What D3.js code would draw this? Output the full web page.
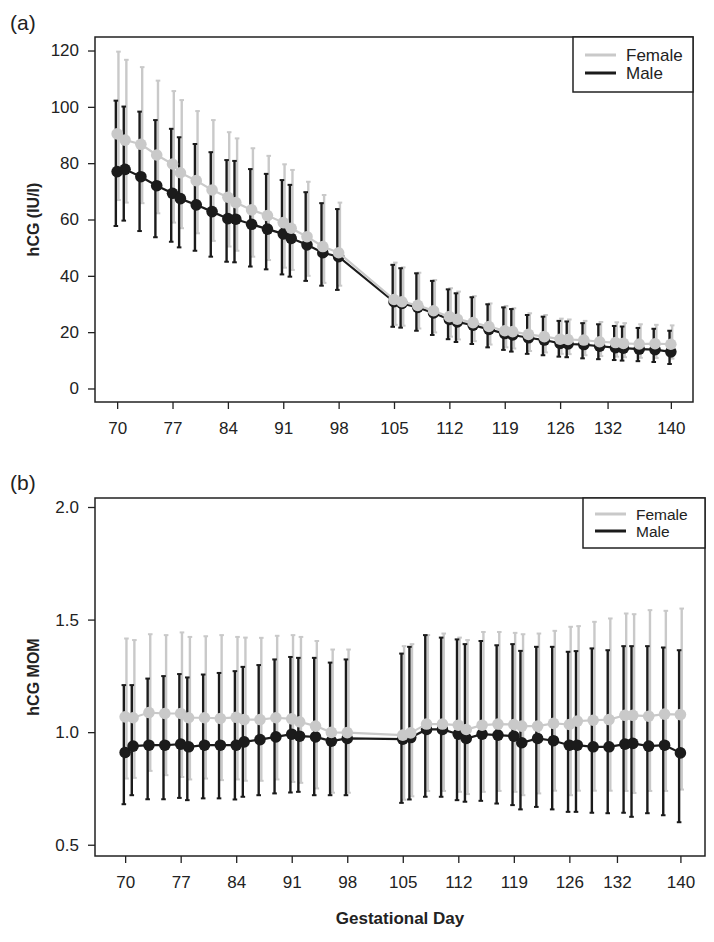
<!DOCTYPE html>
<html><head><meta charset="utf-8">
<script src="https://cdn.jsdelivr.net/npm/d3@7"></script>
<style>
html,body{margin:0;padding:0;background:#fff;}
svg{display:block;font-family:"Liberation Sans",Arial,Helvetica,sans-serif;}
</style></head>
<body><svg id="chart" width="714" height="942"></svg>
<script>
// ---------- data ----------
const days = [70,71,73,75,77,78,80,82,84,85,87,89,91,92,94,96,98,
  105,106,108,110,112,113,115,117,119,120,122,124,126,127,129,131,133,134,136,138,140];
const xTicks = [70,77,84,91,98,105,112,119,126,132,140];
const seriesNames = ["Female","Male"];

// panel (a): hCG (IU/l)
const aFemaleMean = [90.4,88.2,86.7,82.9,79.7,76.6,73.8,70.5,67.9,66.0,63.4,61.4,58.9,56.9,53.9,50.4,48.2,
  31.6,30.8,29.5,27.6,25.5,24.6,23.4,22.0,20.5,20.2,19.2,18.4,17.5,17.4,17.2,16.6,16.3,16.0,15.8,15.9,15.7];
const aFemaleUpper = [119.6,116.7,114.1,109.3,105.6,102.4,98.5,95.3,91.0,88.8,85.3,82.6,79.6,77.6,73.4,68.7,66.0,
  44.7,43.0,41.1,38.5,35.6,34.4,32.8,30.2,29.3,28.5,26.7,26.1,24.8,24.5,24.0,23.6,23.5,23.2,22.8,22.6,22.4];
const aFemaleLower = [66.9,66.0,65.8,62.2,58.9,56.9,55.1,52.4,50.4,48.9,46.8,45.6,42.9,42.1,40.0,37.5,36.5,
  22.6,22.3,21.3,19.9,18.4,17.4,16.8,15.6,14.6,14.2,13.3,12.8,12.3,12.2,11.8,11.5,11.3,11.1,10.9,10.8,10.6];
const aMaleMean = [77.0,77.8,75.2,72.0,69.3,67.4,65.2,62.8,60.3,60.1,58.3,56.6,54.9,53.3,51.0,48.2,46.8,
  30.8,30.2,28.8,26.8,24.5,23.6,22.5,21.0,19.5,19.0,18.0,17.2,16.0,15.8,15.6,15.0,14.5,14.3,14.0,13.8,13.0];
const aMaleUpper = [102.2,100.1,98.3,95.3,92.2,89.2,86.8,83.9,81.1,80.8,77.9,76.2,74.0,72.3,69.7,65.8,63.7,
  43.9,42.7,40.9,38.2,35.2,33.8,32.4,29.9,28.8,28.2,26.1,25.5,24.0,23.8,23.2,22.8,22.2,22.0,21.5,21.2,20.5];
const aMaleLower = [57.7,59.6,55.9,53.7,52.1,50.1,48.9,46.8,45.0,44.8,43.3,42.3,40.5,39.7,38.2,36.5,35.0,
  21.9,21.6,20.5,19.0,17.5,16.5,15.8,14.6,13.7,13.1,12.3,11.8,11.3,11.1,10.7,10.4,10.1,9.9,9.7,9.4,8.7];
const aYTicks = [0,20,40,60,80,100,120];

// panel (b): hCG MOM
const bFemaleMean = [1.068,1.064,1.087,1.083,1.083,1.064,1.064,1.061,1.066,1.056,1.056,1.064,1.059,1.046,1.027,0.999,0.998,
  0.987,0.997,1.036,1.036,1.031,1.012,1.031,1.036,1.034,1.027,1.027,1.039,1.034,1.049,1.053,1.056,1.075,1.075,1.071,1.080,1.078];
const bFemaleUpper = [1.416,1.409,1.435,1.431,1.443,1.423,1.426,1.431,1.423,1.420,1.419,1.428,1.431,1.423,1.405,1.367,1.367,
  1.382,1.391,1.431,1.438,1.420,1.409,1.445,1.445,1.441,1.435,1.438,1.450,1.468,1.471,1.490,1.505,1.527,1.524,1.542,1.539,1.549];
const bFemaleLower = [0.794,0.797,0.828,0.809,0.801,0.790,0.794,0.787,0.790,0.784,0.784,0.790,0.779,0.775,0.750,0.731,0.731,
  0.700,0.715,0.739,0.739,0.735,0.725,0.735,0.739,0.735,0.720,0.728,0.740,0.720,0.740,0.740,0.740,0.739,0.730,0.739,0.739,0.745];
const bMaleMean = [0.910,0.938,0.942,0.942,0.947,0.935,0.942,0.942,0.942,0.957,0.967,0.979,0.991,0.982,0.979,0.960,0.972,
  0.969,0.976,1.012,1.012,0.991,0.972,0.991,0.987,0.982,0.953,0.972,0.962,0.942,0.942,0.935,0.935,0.947,0.950,0.938,0.942,0.908];
const bMaleUpper = [1.209,1.209,1.238,1.249,1.258,1.243,1.256,1.263,1.271,1.290,1.298,1.323,1.334,1.330,1.330,1.309,1.323,
  1.349,1.379,1.431,1.420,1.412,1.391,1.405,1.386,1.391,1.361,1.379,1.379,1.357,1.360,1.372,1.364,1.382,1.382,1.382,1.376,1.364];
const bMaleLower = [0.680,0.720,0.702,0.702,0.708,0.698,0.706,0.706,0.701,0.713,0.720,0.728,0.732,0.735,0.720,0.720,0.720,
  0.686,0.701,0.713,0.713,0.698,0.691,0.695,0.683,0.676,0.657,0.668,0.657,0.646,0.646,0.642,0.640,0.642,0.624,0.640,0.631,0.600];
const bYTicks = [0.5,1.0,1.5,2.0];

// ---------- styling ----------
const FEMALE = "#c9c9c9", MALE = "#1b1b1b", INK = "#222";
const svg = d3.select("#chart");

function drawPanel(cfg){
  const {box, xDomain, yDomain, yTicks, yFmt, tag, tagY, yTitle, legend, female, male} = cfg;
  const x = d3.scaleLinear().domain(xDomain).range([box.x0, box.x1]);
  const y = d3.scaleLinear().domain(yDomain).range([box.y1, box.y0]);
  const g = svg.append("g");

  // axes
  const ax = g.append("g").attr("transform",`translate(0,${box.y1})`)
    .call(d3.axisBottom(x).tickValues(xTicks).tickSize(7).tickPadding(13).tickFormat(d3.format("d")));
  const ay = g.append("g").attr("transform",`translate(${box.x0},0)`)
    .call(d3.axisLeft(y).tickValues(yTicks).tickSize(7).tickPadding(9).tickFormat(yFmt));
  [ax,ay].forEach(a=>{
    a.select(".domain").remove();
    a.selectAll(".tick line").attr("stroke",INK).attr("stroke-width",1.3);
    a.selectAll(".tick text").attr("fill",INK).attr("font-size",17)
      .attr("font-family",'"Liberation Sans",Arial,sans-serif');
  });

  // error bars
  function bars(s, color, off){
    const gb = g.append("g");
    s.mean.forEach((m,i)=>{
      const cx = x(days[i]) + off;
      gb.append("line").attr("x1",cx).attr("x2",cx).attr("y1",y(s.lower[i])).attr("y2",y(s.upper[i]))
        .attr("stroke",color).attr("stroke-width",2.4);
      [s.lower[i], s.upper[i]].forEach(v=>{
        gb.append("line").attr("x1",cx-2.3).attr("x2",cx+2.3).attr("y1",y(v)).attr("y2",y(v))
          .attr("stroke",color).attr("stroke-width",2);
      });
    });
  }
  bars(female, FEMALE, 1.3);
  bars(male, MALE, -1.3);

  function series(s, color){
    const gs = g.append("g");
    gs.append("path").datum(s.mean)
      .attr("d", d3.line().x((d,i)=>x(days[i])).y(d=>y(d)))
      .attr("fill","none").attr("stroke",color).attr("stroke-width",2.2);
    gs.selectAll("circle").data(s.mean).join("circle")
      .attr("cx",(d,i)=>x(days[i])).attr("cy",d=>y(d)).attr("r",5.8).attr("fill",color);
  }
  series(male, MALE);
  series(female, FEMALE);

  // frame
  g.append("rect").attr("x",box.x0).attr("y",box.y0).attr("width",box.x1-box.x0).attr("height",box.y1-box.y0)
    .attr("fill","none").attr("stroke",INK).attr("stroke-width",1.5);

  // legend
  const lg = g.append("g");
  lg.append("rect").attr("x",legend.x0).attr("y",box.y0).attr("width",box.x1-legend.x0).attr("height",legend.h)
    .attr("fill","#fff").attr("stroke",INK).attr("stroke-width",1.5);
  [FEMALE, MALE].forEach((c,k)=>{
    const ly = box.y0 + legend.first + k*legend.step;
    lg.append("line").attr("x1",legend.x0+12).attr("x2",legend.x0+43).attr("y1",ly).attr("y2",ly)
      .attr("stroke",c).attr("stroke-width",3);
    lg.append("text").attr("x",legend.x0+53).attr("y",ly).attr("dy","0.36em")
      .attr("font-size",legend.fs).attr("fill",INK).text(seriesNames[k]);
  });

  // titles
  g.append("text").attr("x",10).attr("y",tagY).attr("font-size",21).attr("fill",INK).text(tag);
  g.append("text").attr("transform",`translate(33,${(box.y0+box.y1)/2}) rotate(-90)`)
    .attr("text-anchor","middle").attr("dy","0.36em").attr("font-size",16).attr("font-weight","bold")
    .attr("fill",INK).text(yTitle);
  return {x,y};
}

drawPanel({
  box:{x0:95,x1:693,y0:37,y1:402}, xDomain:[67.2,142.8], yDomain:[-4.8,124.8],
  yTicks:aYTicks, yFmt:d3.format("d"), tag:"(a)", tagY:30, yTitle:"hCG (IU/l)",
  legend:{x0:573,h:55,first:18,step:18,fs:17},
  female:{mean:aFemaleMean,upper:aFemaleUpper,lower:aFemaleLower},
  male:{mean:aMaleMean,upper:aMaleUpper,lower:aMaleLower}
});
drawPanel({
  box:{x0:95,x1:705,y0:498,y1:856}, xDomain:[66.2,143.1], yDomain:[0.45,2.04],
  yTicks:bYTicks, yFmt:d3.format(".1f"), tag:"(b)", tagY:490, yTitle:"hCG MOM",
  legend:{x0:583,h:50,first:16,step:17,fs:15.5},
  female:{mean:bFemaleMean,upper:bFemaleUpper,lower:bFemaleLower},
  male:{mean:bMaleMean,upper:bMaleUpper,lower:bMaleLower}
});

svg.append("text").attr("x",400).attr("y",918).attr("dy","0.36em").attr("text-anchor","middle")
  .attr("font-size",17).attr("font-weight","bold").attr("fill",INK).text("Gestational Day");
</script>
</body></html>
